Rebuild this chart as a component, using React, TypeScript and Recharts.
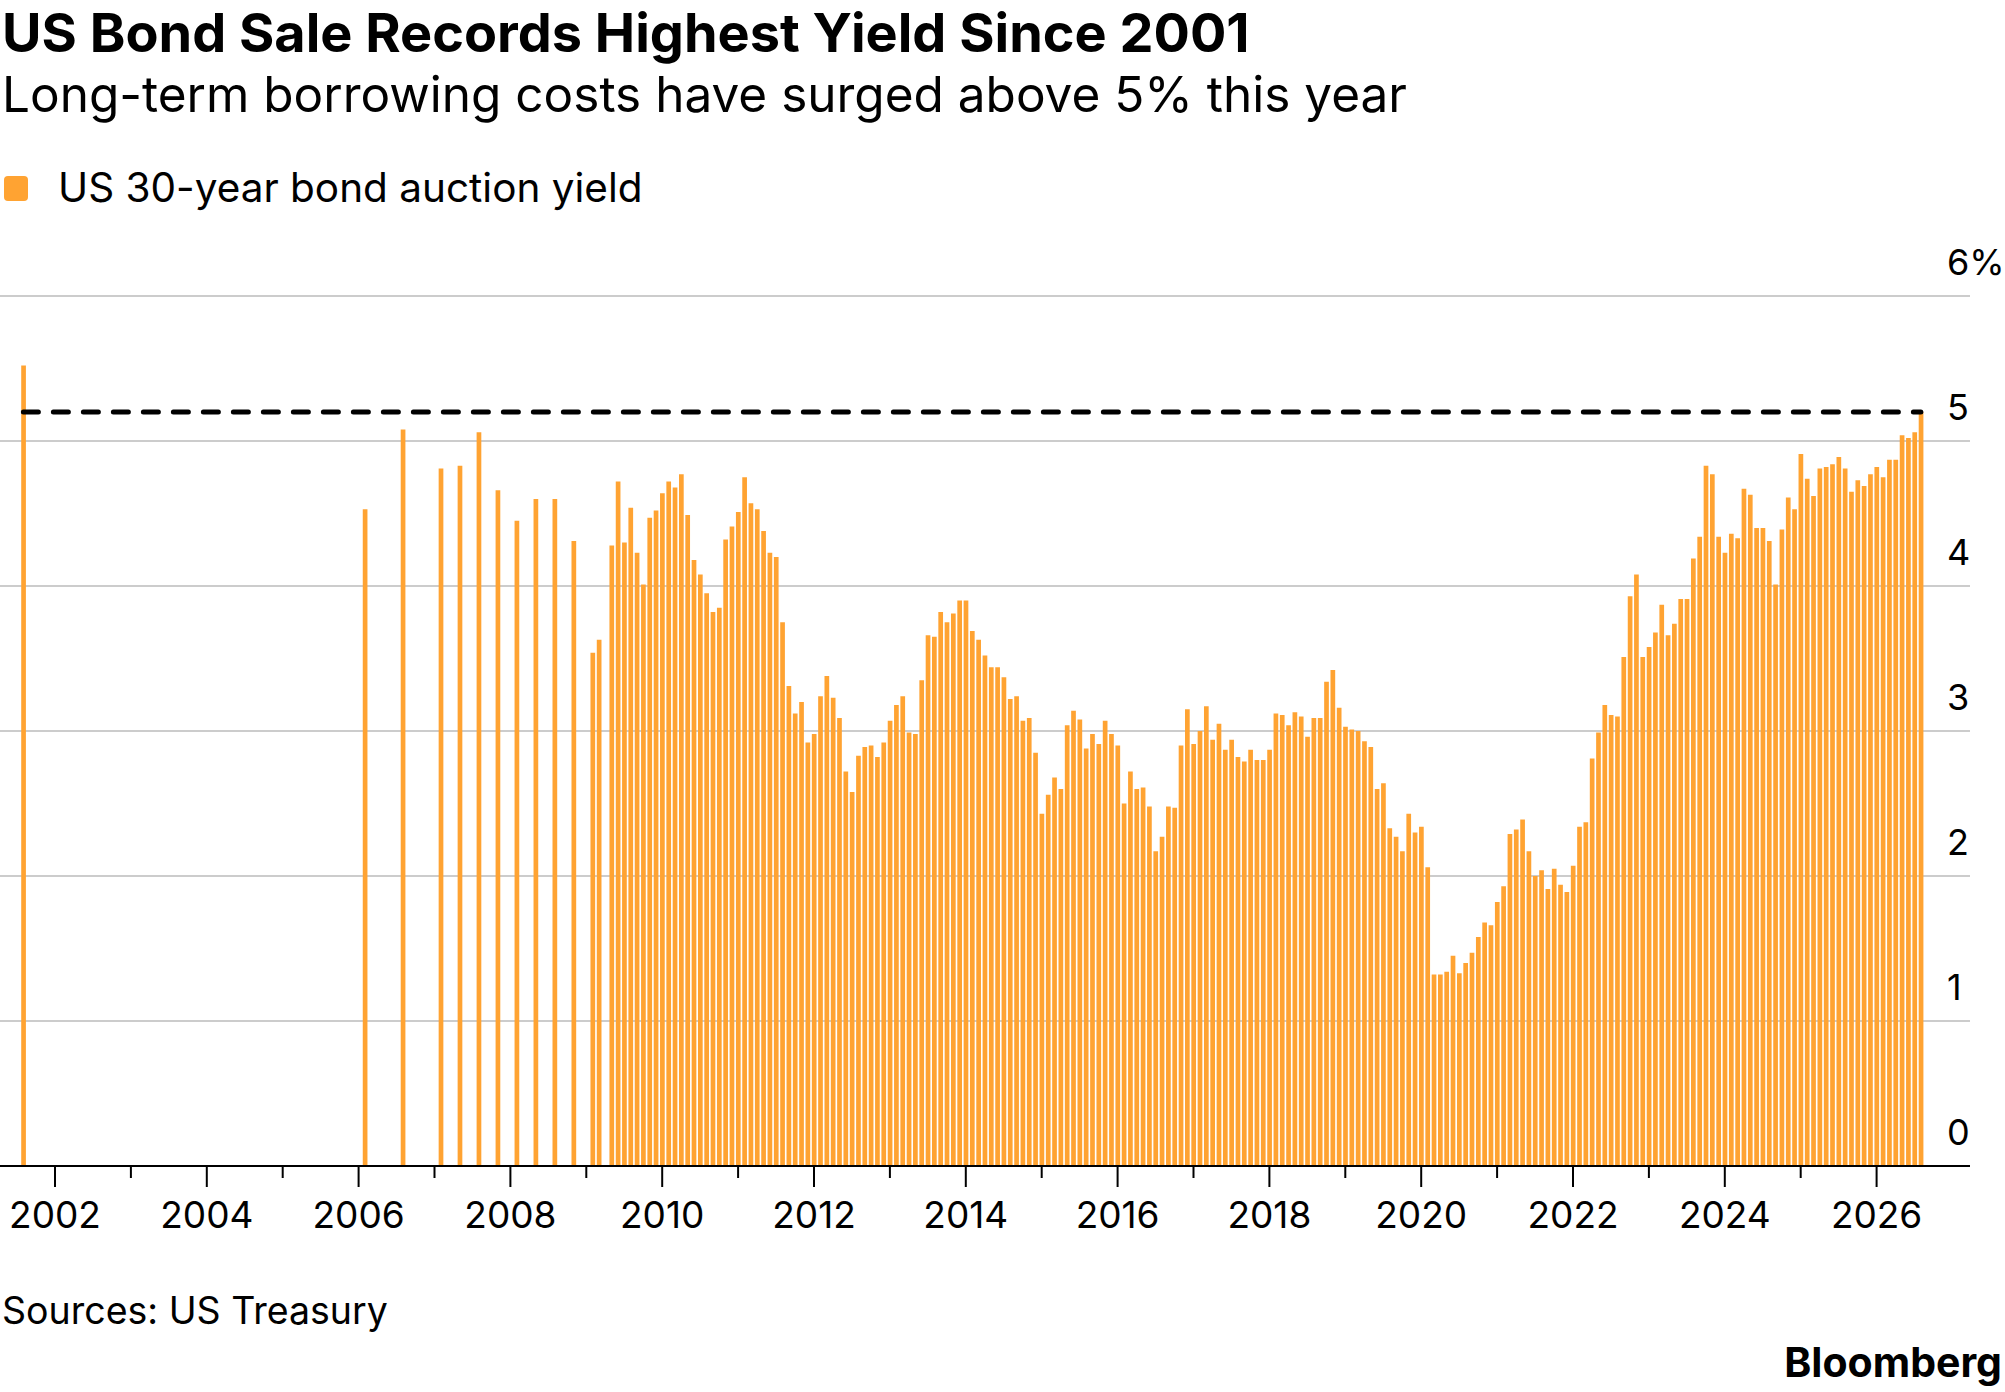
import React from "react";
import { BarChart, Bar, XAxis, YAxis, CartesianGrid, ReferenceLine } from "recharts";

// Irregular auctions before monthly issuance resumed ("YYYY-MM")
const EARLY_DATES = [
  "2001-08", "2006-02", "2006-08", "2007-02", "2007-05", "2007-08", "2007-11",
  "2008-02", "2008-05", "2008-08", "2008-11", "2009-02", "2009-03",
];
const EARLY_YIELDS = [5.52, 4.53, 5.08, 4.81, 4.83, 5.06, 4.66, 4.45, 4.6, 4.6, 4.31, 3.54, 3.63];

// Monthly auctions, May 2009 onward
const MONTHLY_START_YEAR = 2009;
const MONTHLY_START_MONTH = 5;
const YIELDS_2009 = [4.28, 4.72, 4.3, 4.54, 4.23, 4.01, 4.47, 4.52];
const YIELDS_2010 = [4.64, 4.72, 4.68, 4.77, 4.49, 4.18, 4.08, 3.95, 3.82, 3.85, 4.32, 4.41];
const YIELDS_2011 = [4.51, 4.75, 4.57, 4.53, 4.38, 4.23, 4.2, 3.75, 3.31, 3.12, 3.2, 2.92];
const YIELDS_2012 = [2.98, 3.24, 3.38, 3.23, 3.09, 2.72, 2.58, 2.83, 2.89, 2.9, 2.82, 2.92];
const YIELDS_2013 = [3.07, 3.18, 3.24, 2.99, 2.98, 3.35, 3.66, 3.65, 3.82, 3.75, 3.81, 3.9];
const YIELDS_2014 = [3.9, 3.69, 3.63, 3.52, 3.44, 3.44, 3.37, 3.22, 3.24, 3.07, 3.09, 2.85];
const YIELDS_2015 = [2.43, 2.56, 2.68, 2.6, 3.04, 3.14, 3.08, 2.88, 2.98, 2.91, 3.07, 2.98];
const YIELDS_2016 = [2.9, 2.5, 2.72, 2.6, 2.61, 2.48, 2.17, 2.27, 2.48, 2.47, 2.9, 3.15];
const YIELDS_2017 = [2.91, 3.0, 3.17, 2.94, 3.05, 2.87, 2.94, 2.82, 2.79, 2.87, 2.8, 2.8];
const YIELDS_2018 = [2.87, 3.12, 3.11, 3.04, 3.13, 3.1, 2.96, 3.09, 3.09, 3.34, 3.42, 3.16];
const YIELDS_2019 = [3.03, 3.01, 3.0, 2.93, 2.89, 2.6, 2.64, 2.33, 2.27, 2.17, 2.43, 2.3];
const YIELDS_2020 = [2.34, 2.06, 1.32, 1.32, 1.34, 1.45, 1.33, 1.4, 1.47, 1.58, 1.68, 1.66];
const YIELDS_2021 = [1.82, 1.93, 2.29, 2.32, 2.39, 2.17, 2.0, 2.04, 1.91, 2.05, 1.94, 1.89];
const YIELDS_2022 = [2.07, 2.34, 2.37, 2.81, 2.99, 3.18, 3.11, 3.1, 3.51, 3.93, 4.08, 3.51];
const YIELDS_2023 = [3.58, 3.68, 3.87, 3.66, 3.74, 3.91, 3.91, 4.19, 4.34, 4.83, 4.77, 4.34];
const YIELDS_2024 = [4.23, 4.36, 4.33, 4.67, 4.63, 4.4, 4.4, 4.31, 4.01, 4.39, 4.61, 4.53];
const YIELDS_2025 = [4.91, 4.74, 4.62, 4.81, 4.82, 4.84, 4.89, 4.81, 4.65, 4.73, 4.69, 4.77];
const YIELDS_2026 = [4.82, 4.75, 4.87, 4.87, 5.04, 5.02, 5.06, 5.2];

const MONTHLY_BY_YEAR = [
  YIELDS_2009, YIELDS_2010, YIELDS_2011, YIELDS_2012, YIELDS_2013, YIELDS_2014,
  YIELDS_2015, YIELDS_2016, YIELDS_2017, YIELDS_2018, YIELDS_2019, YIELDS_2020,
  YIELDS_2021, YIELDS_2022, YIELDS_2023, YIELDS_2024, YIELDS_2025, YIELDS_2026,
];

const X_TICKS = [
  2002, 2003, 2004, 2005, 2006, 2007, 2008, 2009, 2010, 2011, 2012, 2013, 2014,
  2015, 2016, 2017, 2018, 2019, 2020, 2021, 2022, 2023, 2024, 2025, 2026,
];
const Y_TICKS = [0, 1, 2, 3, 4, 5, 6];

const ORANGE = "#FFA332";
const FONT = "Inter, 'Liberation Sans', Arial, sans-serif";

const toT = (year: number, month: number) => year + (month - 1) / 12;

const data: { t: number; v: number }[] = [];
EARLY_DATES.forEach((d, i) => {
  const [y, m] = d.split("-").map(Number);
  data.push({ t: toT(y, m), v: EARLY_YIELDS[i] });
});
MONTHLY_BY_YEAR.forEach((arr, i) => {
  const year = MONTHLY_START_YEAR + i;
  const startMonth = i === 0 ? MONTHLY_START_MONTH : 1;
  arr.forEach((v, j) => data.push({ t: toT(year, startMonth + j), v }));
});

const firstT = data[0].t;
const lastT = data[data.length - 1].t;
const latest = data[data.length - 1].v;

const XTick = (props: any) => {
  const { x, y, payload } = props;
  const major = payload.value % 2 === 0;
  return (
    <g>
      <line x1={x} x2={x} y1={y} y2={y + (major ? 21 : 12)} stroke="#000" strokeWidth={2} />
      {major && (
        <text x={x} y={y + 62} textAnchor="middle" fontFamily={FONT} fontSize={37} fill="#000">
          {payload.value}
        </text>
      )}
    </g>
  );
};

const YTick = (props: any) => {
  const { x, y, payload } = props;
  const label = payload.value === 6 ? "6%" : String(payload.value);
  return (
    <text x={x - 23} y={y - 21} textAnchor="start" fontFamily={FONT} fontSize={36} fill="#000">
      {label}
    </text>
  );
};

export default function App() {
  return (
    <div style={{ position: "absolute", left: 0, top: 0, width: 2005, height: 1392, background: "#fff" }}>
      <svg width={2005} height={1392} style={{ position: "absolute", left: 0, top: 0 }}>
        <text x={2} y={52} fontFamily={FONT} fontWeight={700} fontSize={54} fill="#000">
          US Bond Sale Records Highest Yield Since 2001
        </text>
        <text x={2} y={112} fontFamily={FONT} fontWeight={400} fontSize={49.5} fill="#000">
          Long-term borrowing costs have surged above 5% this year
        </text>
        <rect x={4} y={176} width={24} height={25} rx={4} fill={ORANGE} />
        <text x={58} y={202} fontFamily={FONT} fontSize={40.5} fill="#000">
          US 30-year bond auction yield
        </text>
        <text x={2} y={1324} fontFamily={FONT} fontSize={37.5} fill="#000">
          Sources: US Treasury
        </text>
        <text x={2002} y={1377} textAnchor="end" fontFamily={FONT} fontWeight={700} fontSize={41} fill="#000">
          Bloomberg
        </text>
      </svg>
      <div style={{ position: "absolute", left: 0, top: 0 }}>
        <BarChart
          width={2005}
          height={1392}
          data={data}
          margin={{ top: 296, right: 0, bottom: 146, left: 0 }}
        >
          <CartesianGrid vertical={false} stroke="#cccccc" strokeWidth={2} />
          <XAxis
            dataKey="t"
            type="number"
            domain={[2001.2754, 2027.2306]}
            allowDataOverflow
            ticks={X_TICKS}
            interval={0}
            tick={XTick}
            tickLine={false}
            tickSize={0}
            tickMargin={0}
            axisLine={{ stroke: "#000", strokeWidth: 2 }}
            height={80}
          />
          <YAxis
            orientation="right"
            domain={[0, 6]}
            ticks={Y_TICKS}
            interval={0}
            tick={YTick}
            axisLine={false}
            tickLine={false}
            tickSize={0}
            tickMargin={0}
            width={35}
          />
          <Bar dataKey="v" fill={ORANGE} barSize={4.7} isAnimationActive={false} />
          <ReferenceLine
            segment={[
              { x: firstT, y: latest },
              { x: lastT, y: latest },
            ]}
            stroke="#000"
            strokeWidth={5}
            strokeDasharray="15 15"
            strokeLinecap="round"
          />
        </BarChart>
      </div>
    </div>
  );
}
